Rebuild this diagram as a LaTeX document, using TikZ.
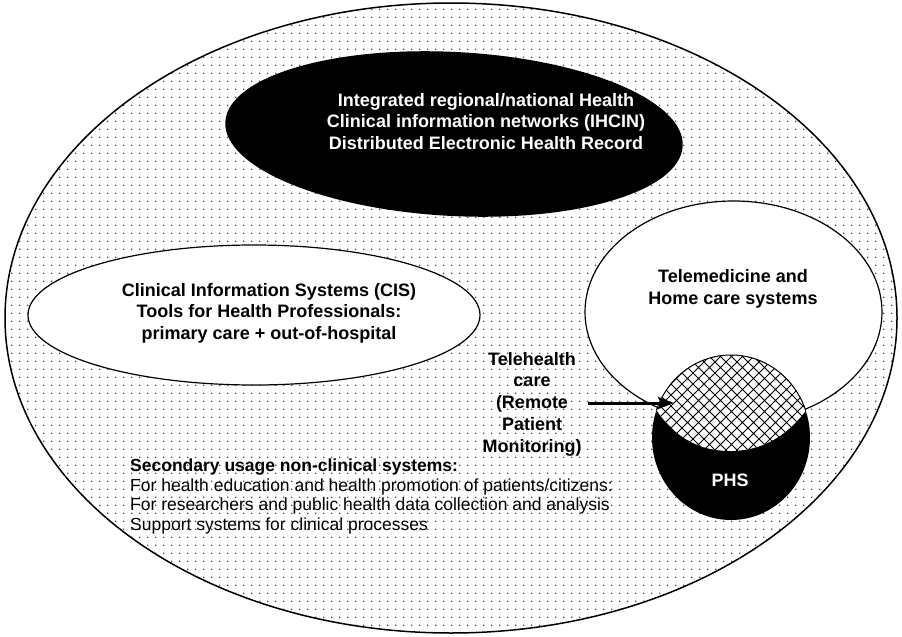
\documentclass[tikz,border=0pt]{standalone}
\usepackage{fontspec}
\setmainfont{Liberation Sans}
\usetikzlibrary{shapes.geometric,arrows.meta,patterns}

\pgfdeclarepatternformonly{bgdots}{\pgfpointorigin}{\pgfpoint{8.3pt}{8.3pt}}{\pgfpoint{8.3pt}{8.3pt}}{%
  \pgfpathcircle{\pgfpoint{4.15pt}{4.15pt}}{0.75pt}%
  \pgfusepath{fill}}
\pgfdeclarepatternformonly{xhatch}{\pgfpoint{-0.5pt}{-0.5pt}}{\pgfpoint{11.5pt}{11.5pt}}{\pgfpoint{11pt}{11pt}}{%
  \pgfsetlinewidth{0.9pt}%
  \pgfpathmoveto{\pgfpoint{-0.5pt}{-0.5pt}}\pgfpathlineto{\pgfpoint{11.5pt}{11.5pt}}%
  \pgfpathmoveto{\pgfpoint{-0.5pt}{11.5pt}}\pgfpathlineto{\pgfpoint{11.5pt}{-0.5pt}}%
  \pgfusepath{stroke}}

\begin{document}
\begin{tikzpicture}[x=1pt,y=-1pt,
  blob/.style={ellipse, inner sep=0pt, outer sep=0pt},
  outl/.style={draw=black, line width=1.2pt},
  lbl/.style={font=\bfseries\fontsize{18}{21.5}\selectfont, align=center, inner sep=0pt},
  thlbl/.style={font=\bfseries\fontsize{18}{21.75}\selectfont, align=center, inner sep=0pt},
  seclbl/.style={font=\fontsize{17.5}{19.7}\selectfont, align=left, inner sep=0pt, anchor=west},
  pointer/.style={draw=black, line width=3pt, -{Stealth[length=16pt,width=12pt,inset=3pt]}}]
\useasboundingbox (0,0) rectangle (902,637);
\fill[white] (0,0) rectangle (902,637);

% outer dotted ellipse
\node[blob, minimum width=892pt, minimum height=630pt, preaction={fill=white},
      pattern=bgdots, draw=black, line width=1.5pt] (outer) at (451,318) {};

% black IHCIN ellipse
\node[blob, minimum width=458pt, minimum height=164pt, rotate=-3, fill=black] (ihcin) at (454,134) {};

% CIS ellipse
\node[blob, outl, fill=white, minimum width=452pt, minimum height=140pt] (cis) at (254,315) {};

% Telemedicine ellipse
\node[blob, outl, fill=white, minimum width=297pt, minimum height=222pt] (tele) at (733.5,312) {};

% PHS circle with hatched part
\node[blob, fill=black, minimum width=158pt, minimum height=165pt] (phs) at (731,437.5) {};
\begin{scope}
  \clip (630,330) -- (650,400) .. controls (672,438) and (700,451) .. (730,451)
        .. controls (760,451) and (788,438) .. (812,402) -- (830,330) -- cycle;
  \fill[white] (731,437.5) ellipse [x radius=79, y radius=82.5];
  \fill[pattern=xhatch] (731,437.5) ellipse [x radius=79, y radius=82.5];
  \draw[line width=1pt] (731,437.5) ellipse [x radius=79, y radius=82.5];
\end{scope}

% texts
\node[lbl, text=white] (ihcinT) at (486,121.5)
  {Integrated regional/national Health\\Clinical information networks (IHCIN)\\Distributed Electronic Health Record};
\node[lbl] (cisT) at (269,313)
  {Clinical Information Systems (CIS)\\Tools for Health Professionals:\\primary care + out-of-hospital};
\node[lbl] (teleT) at (733,289) {Telemedicine and\\Home care systems};
\node[thlbl] (thT) at (532,404) {Telehealth\\care\\(Remote\\Patient\\Monitoring)};
\node[lbl, text=white] (phsT) at (730,480) {PHS};
\node[seclbl] (secT) at (130,496.5)
  {{\bfseries Secondary usage non-clinical systems:}\\
   For health education and health promotion of patients/citizens:\\
   For researchers and public health data collection and analysis\\
   Support systems for clinical processes};

% arrow
\coordinate (arrS) at (588,403);
\coordinate (arrE) at (674,403);
\path[pointer] (arrS) -- (arrE);
\end{tikzpicture}
\end{document}
